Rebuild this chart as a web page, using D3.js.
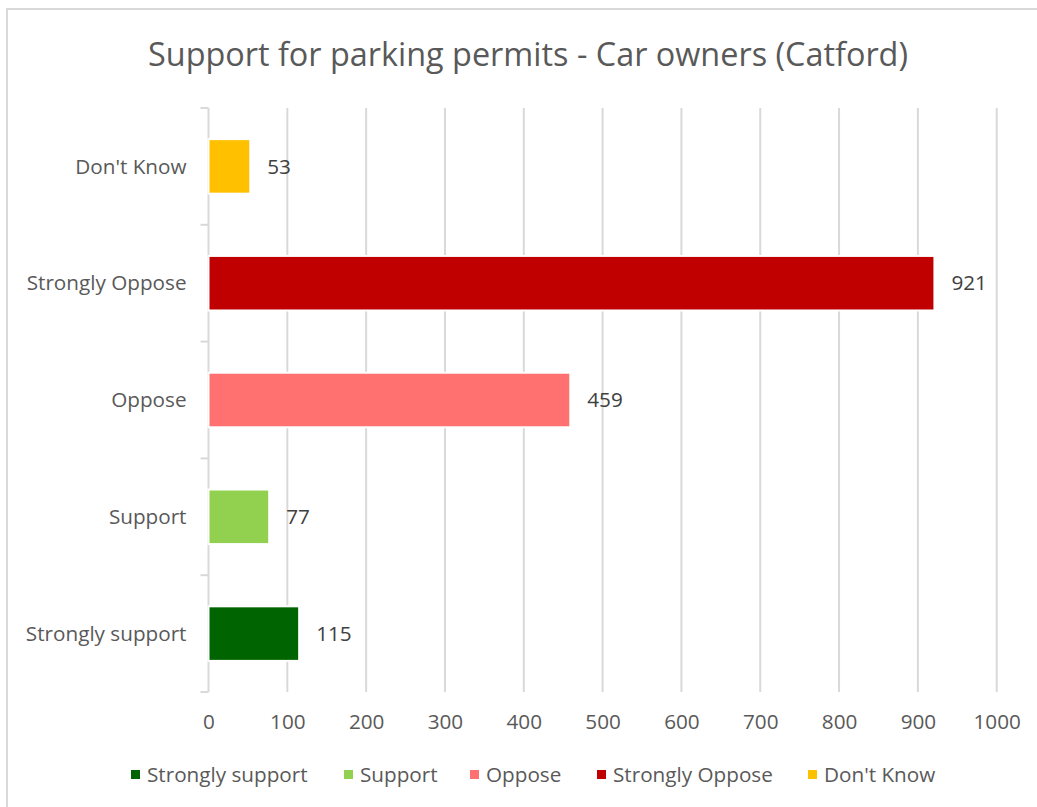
<!DOCTYPE html>
<html>
<head>
<meta charset="utf-8">
<script src="https://cdn.jsdelivr.net/npm/d3@7"></script>
<style>
  html, body { margin: 0; padding: 0; background: #fff; }
  svg text { font-family: "Open Sans", sans-serif; }
</style>
</head>
<body>
<svg id="chart" width="1037" height="807"></svg>
<script>
// Responses, listed from the bottom row up
const categories = ["Strongly support", "Support", "Oppose", "Strongly Oppose", "Don't Know"];
const counts = [115, 77, 459, 921, 53];
const colors = ["#006400", "#92D050", "#FF7171", "#C00000", "#FFC000"];
const xTicks = [0, 100, 200, 300, 400, 500, 600, 700, 800, 900, 1000];
const title = "Support for parking permits - Car owners (Catford)";

const rows = categories.map((c, i) => ({ category: c, value: counts[i], color: colors[i] }));

const svg = d3.select("#chart");
const labelSize = 20.7;

// Outer chart frame
svg.append("rect")
  .attr("x", 7).attr("y", 9)
  .attr("width", 1100).attr("height", 900)
  .attr("fill", "#fff")
  .attr("stroke", "#d9d9d9").attr("stroke-width", 2);

svg.append("text")
  .attr("x", 528).attr("y", 66)
  .attr("text-anchor", "middle")
  .attr("font-size", 32.4)
  .attr("fill", "#595959")
  .text(title);

const plot = { left: 208.5, right: 996.7, top: 108, bottom: 692 };

const x = d3.scaleLinear().domain([0, 1000]).range([plot.left, plot.right]);
const y = d3.scaleBand()
  .domain(categories.slice().reverse())
  .range([plot.top, plot.bottom])
  .paddingInner(0.533)
  .paddingOuter(0.2665);

// Vertical gridlines
svg.append("g")
  .selectAll("line")
  .data(xTicks.slice(1))
  .join("line")
  .attr("x1", d => x(d)).attr("x2", d => x(d))
  .attr("y1", plot.top).attr("y2", plot.bottom)
  .attr("stroke", "#d9d9d9").attr("stroke-width", 2);

// Category axis with ticks between bands
const yAxis = svg.append("g").attr("transform", `translate(${plot.left},0)`);
yAxis.append("line")
  .attr("x1", 0).attr("x2", 0)
  .attr("y1", plot.top).attr("y2", plot.bottom)
  .attr("stroke", "#d9d9d9").attr("stroke-width", 2);
const step = y.step();
yAxis.selectAll("line.tick")
  .data(d3.range(categories.length + 1))
  .join("line")
  .attr("class", "tick")
  .attr("x1", -8).attr("x2", 0)
  .attr("y1", i => plot.top + i * step)
  .attr("y2", i => plot.top + i * step)
  .attr("stroke", "#d9d9d9").attr("stroke-width", 2);
yAxis.selectAll("text")
  .data(categories)
  .join("text")
  .attr("x", -22)
  .attr("y", d => y(d) + y.bandwidth() / 2)
  .attr("dy", "0.35em")
  .attr("text-anchor", "end")
  .attr("font-size", labelSize)
  .attr("fill", "#595959")
  .text(d => d);

// Value axis labels
const xAxis = d3.axisBottom(x).tickValues(xTicks).tickFormat(d3.format("d")).tickSize(0).tickPadding(0);
const xg = svg.append("g").attr("transform", `translate(0,${plot.bottom})`).call(xAxis);
xg.select(".domain").remove();
xg.selectAll("text")
  .attr("y", 30)
  .attr("dy", "0.35em")
  .attr("font-size", labelSize)
  .attr("font-family", "'Open Sans', sans-serif")
  .attr("fill", "#595959");

// Bars
svg.append("g")
  .selectAll("rect")
  .data(rows)
  .join("rect")
  .attr("x", x(0))
  .attr("y", d => y(d.category))
  .attr("width", d => x(d.value) - x(0))
  .attr("height", y.bandwidth())
  .attr("fill", d => d.color)
  .attr("stroke", "#fff").attr("stroke-width", 2);

// Value labels
svg.append("g")
  .selectAll("text")
  .data(rows)
  .join("text")
  .attr("x", d => x(d.value) + 17)
  .attr("y", d => y(d.category) + y.bandwidth() / 2)
  .attr("dy", "0.35em")
  .attr("font-size", labelSize)
  .attr("fill", "#404040")
  .text(d => d.value);

// Legend
const legendTextX = [147, 360, 486, 613, 824];
const legend = svg.append("g")
  .selectAll("g")
  .data(rows)
  .join("g")
  .attr("transform", (d, i) => `translate(${legendTextX[i]},775)`);
legend.append("rect")
  .attr("x", -16).attr("y", -5)
  .attr("width", 9).attr("height", 9)
  .attr("fill", d => d.color);
legend.append("text")
  .attr("x", 0).attr("y", 0)
  .attr("dy", "0.35em")
  .attr("font-size", labelSize)
  .attr("fill", "#595959")
  .text(d => d.category);
</script>
</body>
</html>
